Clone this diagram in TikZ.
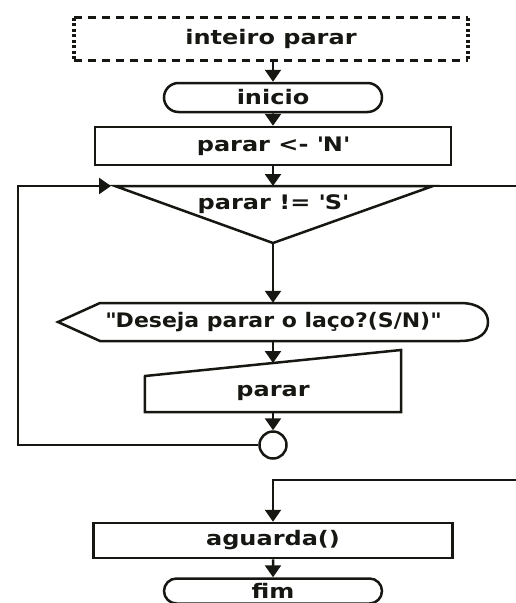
\documentclass[tikz,border=0pt]{standalone}
\usepackage{fontspec}
\setmainfont{DejaVu Sans}[FakeStretch=1.2]
\newfontfamily\askfont{DejaVu Sans}[FakeStretch=1.1]
\usetikzlibrary{positioning, arrows.meta, calc, shapes.misc}
\definecolor{inkcol}{RGB}{22,22,18}
\newcommand{\qs}{\textquotesingle}

\begin{document}
\begin{tikzpicture}[
			x=1pt, y=-1pt,
			node distance=50pt,
			on grid,
			font=\bfseries\fontsize{20}{24}\selectfont,
			every node/.style={text=inkcol},
			terminal/.style={
				draw=inkcol,
				rounded rectangle,
				line width=2.5pt,
				minimum width=218pt,
				minimum height=29pt,
				inner sep=0pt
			},
			process/.style={
				draw=inkcol,
				rectangle,
				line width=2.5pt,
				minimum height=38pt,
				inner sep=0pt
			},
			shapetext/.style={inner sep=0pt},
			junction/.style={
				draw=inkcol,
				circle,
				line width=2.5pt,
				minimum size=27pt,
				inner sep=0pt
			},
			outline/.style={draw=inkcol, line width=2.5pt, line join=miter},
			plain/.style={draw=inkcol, line width=2.5pt},
			flow/.style={
				draw=inkcol,
				line width=2.5pt,
				-{Triangle[width=16pt,length=12pt]}
			},
			declh/.style={draw=inkcol, line width=3pt, dash pattern=on 8pt off 6pt},
			declv/.style={draw=inkcol, line width=3.5pt, dash pattern=on 3pt off 2.5pt}
			]
			\useasboundingbox (0,0) rectangle (516,603);
			\clip (0,0) rectangle (516,603);

			% Declaration
			\node[shapetext, minimum width=394pt, minimum height=42pt] (decl) at (271,39) {inteiro parar};
			\draw[declh] (decl.north west) -- (decl.north east);
			\draw[declh] (decl.south west) -- (decl.south east);
			\draw[declv] (decl.north west) -- (decl.south west);
			\draw[declv] (decl.north east) -- (decl.south east);

			% Blocks
			\node[terminal] (inicio) at (273,97.5) {inicio};
			\node[process, minimum width=356pt] (setn) [below=48.5pt of inicio] {parar <- \qs N\qs};
			\node[shapetext] (cond) [below=58pt of setn] {parar != \qs S\qs};
			\node[shapetext, minimum width=300pt, minimum height=38pt] (ask) [below=118pt of cond] {\askfont\textquotedbl Deseja parar o laço?(S/N)\textquotedbl};
			\node[shapetext, minimum width=256pt, minimum height=38pt] (readin) [below=71pt of ask] {parar};
			\node[junction] (join) [below=52pt of readin] {};
			\node[process, minimum width=359pt, minimum height=35pt] (wait) [below=95.5pt of join] {aguarda()};
			\node[terminal, minimum height=25pt] (fim) [below=50.5pt of wait] {fim};

			% Outlines
			\coordinate (condL) at ($(cond)+(-158,-18)$);
			\coordinate (condR) at ($(cond)+(160,-18)$);
			\coordinate (condT) at ($(cond)+(0,-18)$);
			\coordinate (condB) at ($(cond)+(0,39)$);
			\draw[outline] (condL) -- (condR) -- (condB) -- cycle;

			\draw[outline] ($(ask)+(-215,0)$) -- ($(ask)+(-173,-19)$) -- ($(ask)+(187,-19)$)
				.. controls ($(ask)+(207,-19)$) and ($(ask)+(215,-10)$) .. ($(ask)+(215,0)$)
				.. controls ($(ask)+(215,10)$) and ($(ask)+(207,19)$) .. ($(ask)+(187,19)$)
				-- ($(ask)+(-173,19)$) -- cycle;

			\coordinate (inTL) at ($(readin)+(-128,-17)$);
			\coordinate (inTR) at ($(readin)+(128,-43)$);
			\coordinate (inTop) at ($(inTL)!0.5!(inTR)$);
			\draw[outline] (inTL) -- (inTR) -- (readin.south east) -- (readin.south west) -- cycle;

			% Free ends
			\coordinate (loopC) at ($(condL)+(-97,0)$);
			\coordinate (exitR) at ($(condR)+(90,0)$);
			\coordinate (backR) at ($(wait.north)+(250,-42)$);

			% Connectors
			\draw[flow] (inicio.north |- decl.south) -- (inicio.north);
			\draw[flow] (inicio) -- (setn);
			\draw[flow] (setn) -- (condT);
			\draw[flow] (condB) -- (ask);
			\draw[flow] (ask) -- (inTop);
			\draw[flow] (readin.south) -- (join);
			\draw[flow, shorten >=4pt] (join.west) -| (loopC) -- (condL);
			\draw[plain] (condR) -- (exitR);
			\draw[flow] (backR) -| (wait.north);
			\draw[flow] (wait) -- (fim);
		\end{tikzpicture}
\end{document}
